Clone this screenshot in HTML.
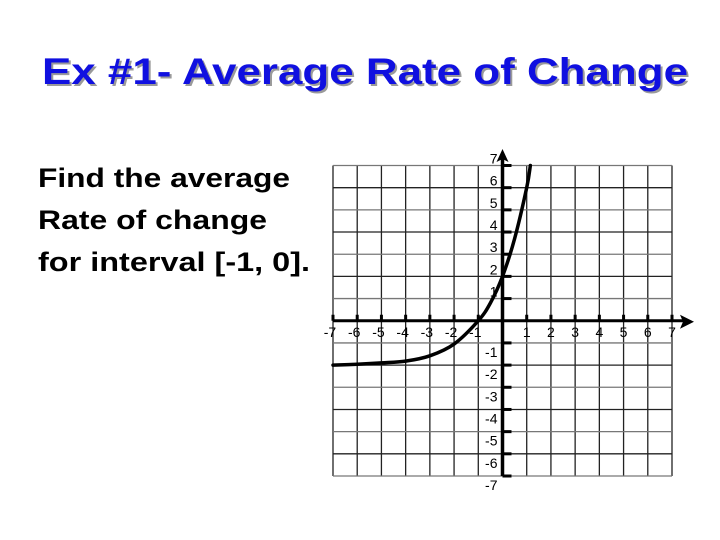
<!DOCTYPE html>
<html><head><meta charset="utf-8"><style>
html,body{margin:0;padding:0;background:#fff;}
svg{display:block;font-family:"Liberation Sans",Arial,sans-serif;}
</style></head><body>
<svg id="chart" width="720" height="540" viewBox="0 0 720 540" xmlns="http://www.w3.org/2000/svg">
<text x="44" y="86" font-size="37" font-weight="bold" fill="#9a9a9a" textLength="646" lengthAdjust="spacingAndGlyphs">Ex #1- Average Rate of Change</text>
<text x="42" y="84" font-size="37" font-weight="bold" fill="#1010e0" textLength="646" lengthAdjust="spacingAndGlyphs">Ex #1- Average Rate of Change</text>
<g font-size="27" font-weight="bold" fill="#000">
<text x="38" y="187" textLength="252" lengthAdjust="spacingAndGlyphs">Find the average</text>
<text x="38" y="229" textLength="229" lengthAdjust="spacingAndGlyphs">Rate of change</text>
<text x="38" y="271" textLength="272" lengthAdjust="spacingAndGlyphs">for interval [-1, 0].</text>
</g>
<g id="grid"></g>
<g id="axes"></g>
<g id="series"></g>
</svg>
<script>
const xTicks=[-7,-6,-5,-4,-3,-2,-1,0,1,2,3,4,5,6,7];
const yTicks=[-7,-6,-5,-4,-3,-2,-1,0,1,2,3,4,5,6,7];
const curveX=[-7,-6,-5,-4,-3,-2,-1,-0.5,0,0.5,1,1.15];
const curveY=[-2,-1.96,-1.9,-1.82,-1.58,-1.05,0,0.8,2,3.7,6,7];
const NS='http://www.w3.org/2000/svg';
const X0=333,X1=672,Y0=476,Y1=165.5;
const sx=v=>X0+(v+7)*(X1-X0)/14;
const sy=v=>Y0-(v+7)*(Y0-Y1)/14;
function mk(tag,attrs,parent){const e=document.createElementNS(NS,tag);for(const k in attrs)e.setAttribute(k,attrs[k]);parent.appendChild(e);return e;}
const grid=document.getElementById('grid'),axes=document.getElementById('axes'),series=document.getElementById('series');
xTicks.forEach(v=>{if(v===0)return;const l=mk('line',{x1:sx(v),x2:sx(v),y1:sy(7),y2:sy(-7),stroke:'#222','stroke-width':1.3},grid);

});
yTicks.forEach(v=>{if(v===0)return;const l=mk('line',{x1:sx(-7),x2:sx(7),y1:sy(v),y2:sy(v),stroke:(v%2?'#777':'#222'),'stroke-width':1.3},grid);

});
let a=mk('line',{x1:sx(-7),x2:688,y1:sy(0),y2:sy(0),stroke:'#000','stroke-width':3},axes);


a=mk('polygon',{points:`694,${sy(0)+1} 680,${sy(0)-6} 683,${sy(0)+1} 680,${sy(0)+8}`,fill:'#000'},axes);


a=mk('line',{x1:sx(0),x2:sx(0),y1:sy(-7),y2:157,stroke:'#000','stroke-width':3.5},axes);


a=mk('polygon',{points:`${sx(0)},149 ${sx(0)-6},162 ${sx(0)},159 ${sx(0)+6},162`,fill:'#000'},axes);


xTicks.forEach(v=>{if(v===0)return;
const t=mk('line',{x1:sx(v),x2:sx(v),y1:sy(0)-6,y2:sy(0),stroke:'#000','stroke-width':3},axes);


const tx=mk('text',{x:sx(v)-(v<0?3:0),y:sy(0)+16,'font-size':14,'text-anchor':'middle',fill:'#000'},axes);tx.textContent=String(v);

});
yTicks.forEach(v=>{if(v===0)return;
const t=mk('line',{x1:sx(0),x2:sx(0)+9,y1:sy(v),y2:sy(v),stroke:'#000','stroke-width':3},axes);


const tx=mk('text',{x:sx(0)-5,y:sy(v)+(v>0?-2:14),'font-size':14,'text-anchor':'end',fill:'#000'},axes);tx.textContent=String(v);

});
const pts=curveX.map((x,i)=>[sx(x),sy(curveY[i])]);
let d='M'+pts[0][0]+','+pts[0][1];
for(let i=0;i<pts.length-1;i++){const p0=pts[Math.max(0,i-1)],p1=pts[i],p2=pts[i+1],p3=pts[Math.min(pts.length-1,i+2)];
d+=` C${p1[0]+(p2[0]-p0[0])/6},${p1[1]+(p2[1]-p0[1])/6} ${p2[0]-(p3[0]-p1[0])/6},${p2[1]-(p3[1]-p1[1])/6} ${p2[0]},${p2[1]}`;}
const c=mk('path',{d:d,fill:'none',stroke:'#000','stroke-width':3.5,'stroke-linecap':'round'},series);


</script>
</body></html>
